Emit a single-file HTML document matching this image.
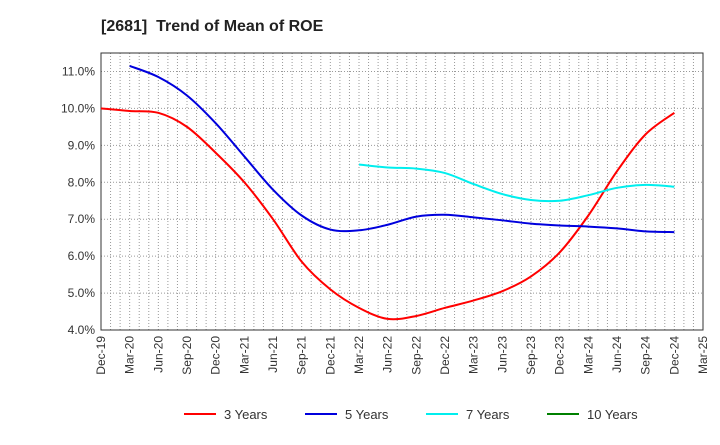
<!DOCTYPE html>
<html><head><meta charset="utf-8"><style>
body{margin:0;background:#fff;font-family:"Liberation Sans",sans-serif}
</style></head><body>
<svg width="720" height="440" xmlns="http://www.w3.org/2000/svg">
<text x="101" y="31" font-size="16" font-weight="bold" fill="#222" style="white-space:pre" xml:space="preserve">[2681]  Trend of Mean of ROE</text>
<g id="grid"></g><g id="axes"></g><g id="series"></g><g id="legend"></g>
</svg>
<script>
const categories=["Dec-19","Mar-20","Jun-20","Sep-20","Dec-20","Mar-21","Jun-21","Sep-21","Dec-21","Mar-22","Jun-22","Sep-22","Dec-22","Mar-23","Jun-23","Sep-23","Dec-23","Mar-24","Jun-24","Sep-24","Dec-24","Mar-25"];
const yTicks=[4,5,6,7,8,9,10,11];
const s3=[10.0,9.93,9.88,9.5,8.8,8.0,7.0,5.85,5.1,4.6,4.3,4.38,4.6,4.8,5.05,5.45,6.1,7.1,8.3,9.3,9.88];
const s5=[null,11.15,10.85,10.35,9.6,8.7,7.8,7.1,6.72,6.7,6.85,7.07,7.12,7.05,6.97,6.88,6.83,6.8,6.75,6.67,6.65];
const s7=[null,null,null,null,null,null,null,null,null,8.48,8.4,8.37,8.25,7.95,7.68,7.52,7.5,7.65,7.85,7.93,7.88];
const s10=[];
const L=101,R=703,T=53,B=330,yMin=4,yMax=11.5;
const ns="http://www.w3.org/2000/svg";
const x=i=>L+(R-L)*i/(categories.length-1);
const y=v=>B-(B-T)*(v-yMin)/(yMax-yMin);
function mk(tag,attrs,parent){const e=document.createElementNS(ns,tag);for(const k in attrs)e.setAttribute(k,attrs[k]);document.getElementById(parent).appendChild(e);return e;}
for(let m=1;m<(categories.length-1)*3;m++){const gx=L+(R-L)*m/((categories.length-1)*3);
const g=mk('line',{x1:gx,x2:gx,y1:T,y2:B,stroke:'#999','stroke-dasharray':'1,2','stroke-width':1},'grid');

}
yTicks.forEach(v=>{const g=mk('line',{x1:L,x2:R,y1:y(v),y2:y(v),stroke:'#999','stroke-dasharray':'1,2'},'grid');


const t=mk('text',{x:L-6,y:y(v)+4,'text-anchor':'end','font-size':12,fill:'#333'},'axes');t.textContent=v.toFixed(1)+'%';

});
const fr=mk('rect',{x:L,y:T,width:R-L,height:B-T,fill:'none',stroke:'#333'},'axes');


categories.forEach((c,i)=>{const t=mk('text',{transform:`translate(${x(i)+4},${B+6}) rotate(-90)`,'text-anchor':'end','font-size':12,fill:'#333'},'axes');t.textContent=c;

});
function path(data,color,name){const pts=[];data.forEach((v,i)=>{if(v!=null)pts.push([x(i),y(v)]);});if(pts.length<2)return;
let d=`M${pts[0][0]},${pts[0][1]}`;for(let i=0;i<pts.length-1;i++){const p0=pts[i-1]||pts[i],p1=pts[i],p2=pts[i+1],p3=pts[i+2]||p2;
d+=`C${p1[0]+(p2[0]-p0[0])/6},${p1[1]+(p2[1]-p0[1])/6} ${p2[0]-(p3[0]-p1[0])/6},${p2[1]-(p3[1]-p1[1])/6} ${p2[0]},${p2[1]}`;}
const p=mk('path',{d:d,fill:'none',stroke:color,'stroke-width':2},'series');

}
path(s3,'#ff0000','series-3-years');path(s5,'#0000dd','series-5-years');path(s7,'#00eeee','series-7-years');path(s10,'#008000','series-10-years');
[['3 Years','#ff0000',184],['5 Years','#0000dd',305],['7 Years','#00eeee',426],['10 Years','#008000',547]].forEach(([lab,c,lx])=>{
const l=mk('line',{x1:lx,x2:lx+32,y1:414,y2:414,stroke:c,'stroke-width':2},'legend');


const t=mk('text',{x:lx+40,y:419,'font-size':13,fill:'#333'},'legend');t.textContent=lab;

});
</script>
</body></html>
